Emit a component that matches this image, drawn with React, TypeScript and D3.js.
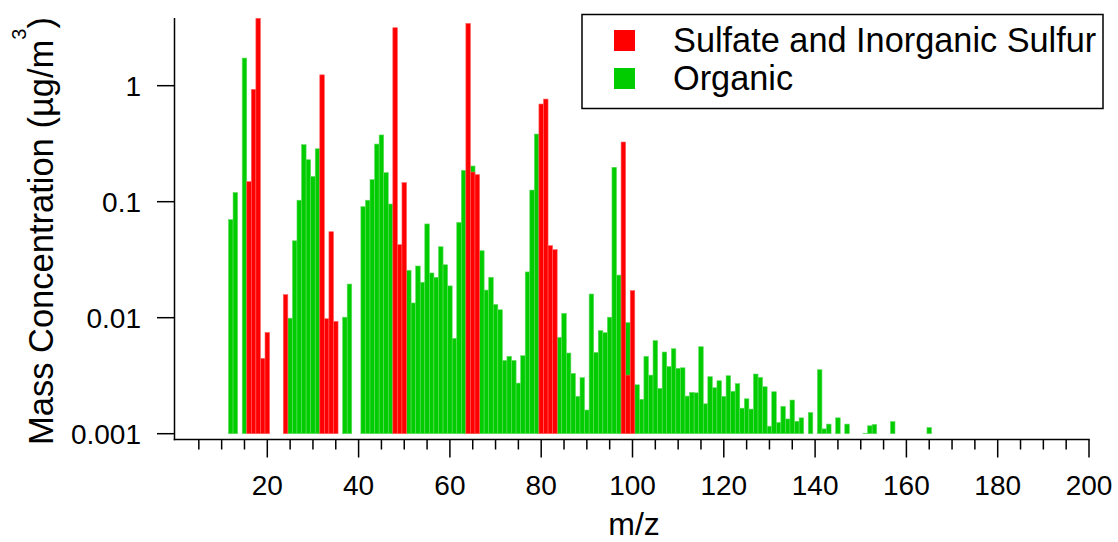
import React from "react";
import * as d3 from "d3";

// Organic (green) series: m/z and mass concentration (µg/m3)
const organicMz = [
  12, 13, 15, 25, 26, 27, 28, 29, 30, 31, 37, 38, 41, 42, 43, 44, 45, 46, 47,
  51, 52, 53, 54, 55, 56, 57, 58, 59, 60, 61, 62, 63, 65, 67, 68, 69, 70, 71,
  72, 73, 74, 75, 76, 77, 78, 79, 84, 85, 86, 87, 88, 89, 90, 91, 92, 93, 94,
  95, 96, 97, 99, 101, 102, 103, 104, 105, 106, 107, 108, 109, 110, 111, 112,
  113, 114, 115, 116, 117, 118, 119, 120, 121, 122, 123, 124, 125, 126, 127,
  128, 129, 130, 131, 132, 133, 134, 135, 136, 137, 139, 141, 142, 143, 145,
  147, 151, 152, 153, 157, 165,
];
const organicValues = [
  0.07, 0.12, 1.73, 0.0099, 0.046, 0.103, 0.31, 0.23, 0.165, 0.286, 0.0101,
  0.0195, 0.0906, 0.103, 0.155, 0.314, 0.376, 0.178, 0.0955,
  0.0256, 0.0134, 0.0279, 0.0202, 0.0643, 0.0243, 0.0223, 0.0409, 0.0286,
  0.0188, 0.00663, 0.0663, 0.186, 0.203, 0.0378, 0.0173, 0.0223, 0.013,
  0.0117, 0.00428, 0.00464, 0.00428, 0.00273, 0.0047, 0.0248, 0.126, 0.383,
  0.00676, 0.0109, 0.00496, 0.00331, 0.0021, 0.00304, 0.0016, 0.016, 0.00502,
  0.00773, 0.00743, 0.0101, 0.198, 0.0233, 0.00906, 0.00264, 0.00198,
  0.00464, 0.0032, 0.00634, 0.00246, 0.00506, 0.0038, 0.0054, 0.00366,
  0.0037, 0.00211, 0.00227, 0.00225, 0.00562, 0.00181, 0.0031, 0.00249,
  0.00286, 0.0021, 0.00316, 0.00232, 0.0027, 0.00166, 0.002, 0.00163,
  0.00327, 0.00306, 0.00254, 0.00116, 0.0023, 0.00125, 0.00172, 0.00134,
  0.00195, 0.00128, 0.00137, 0.00152, 0.00356, 0.0011, 0.00121, 0.00137,
  0.00121, 0.00101, 0.00117, 0.0012, 0.00127, 0.00113,
];

// Sulfate and inorganic sulfur (red) series
const sulfateMz = [16, 17, 18, 19, 20, 24, 32, 33, 34, 35, 48, 49, 50, 64, 65, 66, 80, 81, 82, 83, 98, 99, 100];
const sulfateValues = [
  0.149, 0.93, 3.9, 0.00446, 0.00746, 0.0158, 1.24, 0.0098, 0.0551, 0.00929,
  3.16, 0.0426, 0.146, 3.44, 0.18, 0.171, 0.695, 0.767, 0.0418, 0.0386,
  0.327, 0.0032, 0.0171,
];

const xTicksMajor = [20, 40, 60, 80, 100, 120, 140, 160, 180, 200];
const yTicks = [1, 0.1, 0.01, 0.001];
const yTickLabels = ["1", "0.1", "0.01", "0.001"];
const legendLabels = ["Sulfate and Inorganic Sulfur", "Organic"];

const W = 1118;
const H = 542;
const FONT = "Arial, 'Liberation Sans', Helvetica, sans-serif";
const GREEN = "#00CC00";
const RED = "#FF0000";

export default function App() {
  const x = d3.scaleLinear().domain([0, 200]).range([176, 1089]);
  const y = d3.scaleLog().domain([0.001, 3.81]).range([433.7, 18.3]).clamp(true);
  const axisY = 439.5;
  const axisX = 174.5;
  const minorTicks = d3.range(5, 201, 5);

  const bars = (mz: number[], vals: number[], color: string, stroke: string) =>
    mz.map((m, i) => {
      const x0 = x(m - 0.5);
      const x1 = x(m + 0.5);
      const yt = y(vals[i]);
      return (
        <rect
          key={color + m}
          x={x0}
          y={yt}
          width={x1 - x0}
          height={y(0.001) - yt}
          fill={color}
          stroke={stroke}
          strokeWidth={0.6}
        />
      );
    });

  return (
    <svg
      width={W}
      height={H}
      style={{ position: "absolute", left: 0, top: 0, background: "#fff" }}
      fontFamily={FONT}
    >
      <rect x={0} y={0} width={W} height={H} fill="#fff" />
      {bars(organicMz, organicValues, GREEN, "#5fdc5f")}
      {bars(sulfateMz, sulfateValues, RED, "#ff6060")}

      {/* Y axis */}
      <line x1={axisX} x2={axisX} y1={18} y2={axisY + 0.75} stroke="#000" strokeWidth={1.5} />
      {yTicks.map((t, i) => (
        <g key={t}>
          <line x1={157} x2={axisX} y1={y(t)} y2={y(t)} stroke="#000" strokeWidth={1.5} />
          <text x={141} y={y(t) + 10} fontSize={28} textAnchor="end" fill="#000">
            {yTickLabels[i]}
          </text>
        </g>
      ))}

      {/* X axis */}
      <line x1={axisX - 0.75} x2={x(200) + 0.75} y1={axisY} y2={axisY} stroke="#000" strokeWidth={1.5} />
      {minorTicks.map((t) => {
        const major = t % 20 === 0;
        return (
          <line
            key={t}
            x1={x(t)}
            x2={x(t)}
            y1={axisY}
            y2={axisY + (major ? 18 : 10)}
            stroke="#000"
            strokeWidth={1.5}
          />
        );
      })}
      {xTicksMajor.map((t) => (
        <text key={t} x={x(t)} y={495} fontSize={28} textAnchor="middle" fill="#000">
          {t}
        </text>
      ))}
      <text x={634} y={535} fontSize={32} textAnchor="middle" fill="#000">
        m/z
      </text>

      {/* Y title */}
      <text transform="translate(53,445) rotate(-90)" fontSize={34.5} fill="#000">
        Mass Concentration (µg/m
        <tspan dy={-27} fontSize={20}>3</tspan>
        <tspan dy={27}>)</tspan>
      </text>

      {/* Legend */}
      <rect x={582} y={14.5} width={521} height={94} fill="#fff" stroke="#000" strokeWidth={1.5} />
      <rect x={614} y={30} width={21} height={21} fill={RED} />
      <rect x={614} y={68} width={21} height={21} fill={GREEN} />
      <text x={673} y={52} fontSize={34.3} fill="#000">{legendLabels[0]}</text>
      <text x={673} y={90} fontSize={34.3} fill="#000">{legendLabels[1]}</text>
    </svg>
  );
}
